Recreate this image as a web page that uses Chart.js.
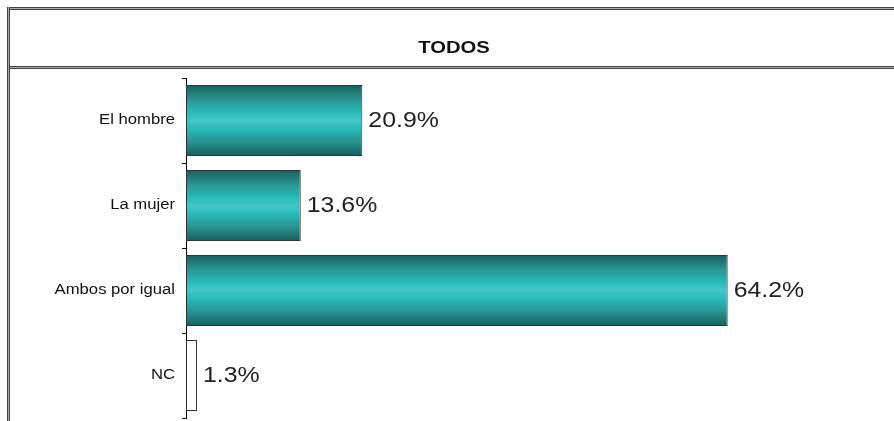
<!DOCTYPE html>
<html>
<head>
<meta charset="utf-8">
<script src="https://cdn.jsdelivr.net/npm/chart.js@4/dist/chart.umd.min.js"></script>
<style>
  html, body { margin: 0; padding: 0; background: #fff; }
  #wrap { width: 894px; height: 421px; position: relative; }
</style>
</head>
<body>
<div id="wrap"><canvas id="chart" width="894" height="421"></canvas></div>
<script>
const titleText = "TODOS";
const categories = ["El hombre", "La mujer", "Ambos por igual", "NC"];
const values = [20.9, 13.6, 64.2, 1.3];
const labels = ["20.9%", "13.6%", "64.2%", "1.3%"];
const plainBars = [false, false, false, true]; // NC is drawn white

const BAR_PCT = 0.835;
const FONT = "'Liberation Sans', Arial, sans-serif";
const STRETCH = 1.19; // the original text is a bit wide

function barFill(ctx) {
  const chart = ctx.chart;
  const area = chart.chartArea;
  if (plainBars[ctx.dataIndex]) return "#ffffff";
  if (!area) return "#2cbcbc";
  const band = (area.bottom - area.top) / categories.length;
  const half = band * BAR_PCT / 2;
  const yc = chart.scales.y.getPixelForValue(ctx.dataIndex);
  const g = chart.ctx.createLinearGradient(0, yc - half, 0, yc + half);
  g.addColorStop(0, "#165f5d");
  g.addColorStop(0.22, "#2a9896");
  g.addColorStop(0.38, "#26bab9");
  g.addColorStop(0.5, "#44c6c6");
  g.addColorStop(0.62, "#26bab9");
  g.addColorStop(0.78, "#2a9896");
  g.addColorStop(1, "#165f5d");
  return g;
}

function wideText(c, text, x, y, sx) {
  c.save();
  c.translate(x, y);
  c.scale(sx, 1);
  c.fillText(text, 0, 0);
  c.restore();
}

// frame + title box
const framePlugin = {
  id: "frame",
  beforeDraw(chart) {
    const c = chart.ctx;
    c.save();
    function hline(y, x0, x1) {
      c.fillStyle = "#444"; c.fillRect(x0, y, x1 - x0, 1);
      c.fillStyle = "#aaa"; c.fillRect(x0, y + 1, x1 - x0, 1);
      c.fillStyle = "#444"; c.fillRect(x0, y + 2, x1 - x0, 1);
    }
    function vline(x, y0, y1) {
      c.fillStyle = "#444"; c.fillRect(x, y0, 1, y1 - y0);
      c.fillStyle = "#aaa"; c.fillRect(x + 1, y0, 1, y1 - y0);
      c.fillStyle = "#444"; c.fillRect(x + 2, y0, 1, y1 - y0);
    }
    hline(7, 7, chart.width);
    hline(66, 7, chart.width);
    vline(7, 7, chart.height);
    c.fillStyle = "#111";
    c.font = "bold 17px " + FONT;
    c.textAlign = "center";
    c.textBaseline = "middle";
    wideText(c, titleText, 454, 48, STRETCH);
    c.restore();
  },
  // category names, placed by the y scale
  afterDraw(chart) {
    const c = chart.ctx;
    const y = chart.scales.y;
    c.save();
    c.fillStyle = "#111";
    c.font = "14px " + FONT;
    c.textAlign = "right";
    c.textBaseline = "middle";
    y.ticks.forEach((t, i) => {
      wideText(c, y.getLabelForValue(t.value), y.right - 11, y.getPixelForTick(i), STRETCH);
    });
    c.restore();
  }
};

// value labels right of bars
const valuePlugin = {
  id: "values",
  afterDatasetsDraw(chart) {
    const c = chart.ctx;
    const meta = chart.getDatasetMeta(0);
    c.save();
    c.fillStyle = "#222";
    c.font = "22px " + FONT;
    c.textAlign = "left";
    c.textBaseline = "middle";
    meta.data.forEach((bar, i) => {
      wideText(c, labels[i], bar.x + 6, bar.y, 1.13);
    });
    c.restore();
  }
};

new Chart(document.getElementById("chart"), {
  type: "bar",
  data: {
    labels: categories,
    datasets: [{
      data: values,
      backgroundColor: barFill,
      borderColor: "#333",
      borderWidth: 1,
      borderSkipped: false,
      categoryPercentage: 1,
      barPercentage: BAR_PCT
    }]
  },
  options: {
    indexAxis: "y",
    responsive: false,
    animation: false,
    layout: { padding: { top: 78, bottom: 3, left: 0, right: 33 } },
    plugins: {
      legend: { display: false },
      title: { display: false },
      tooltip: { enabled: false }
    },
    scales: {
      x: { display: false, min: 0, max: 80 },
      y: {
        afterFit(s) { s.width = 186; s.paddingTop = 0; s.paddingBottom = 0; },
        border: { display: true, color: "#000", width: 1 },
        grid: { drawOnChartArea: false, drawTicks: true, tickLength: 4, color: "#000", offset: true },
        ticks: { display: false }
      }
    }
  },
  plugins: [framePlugin, valuePlugin]
});
</script>
</body>
</html>
